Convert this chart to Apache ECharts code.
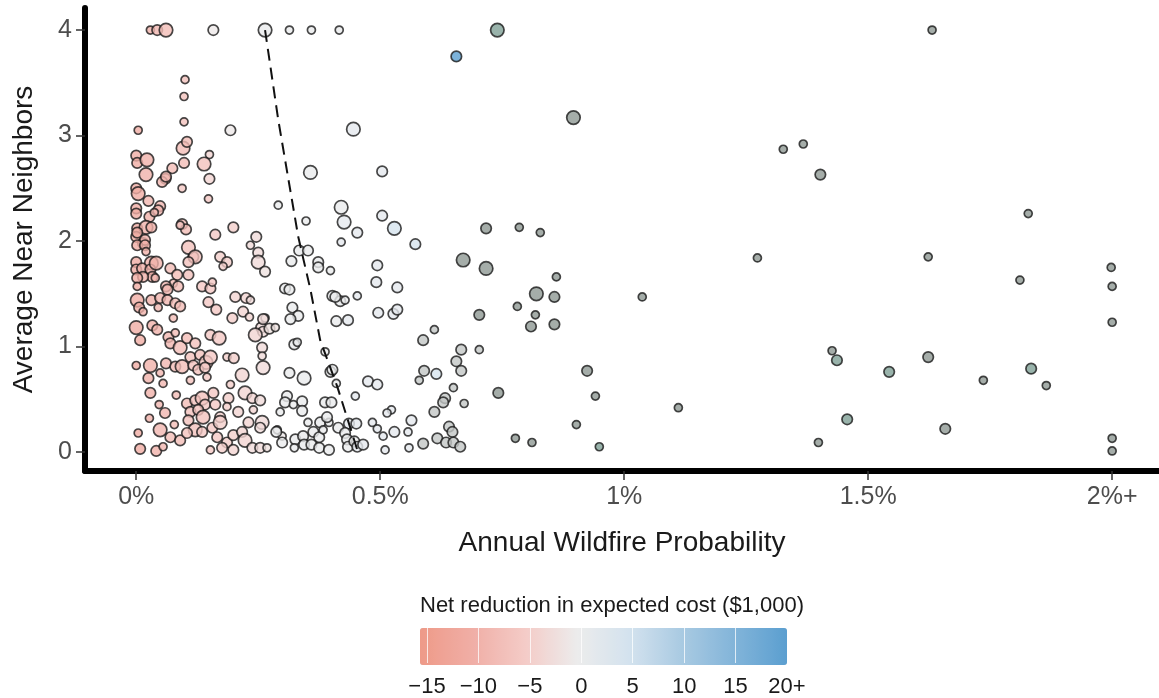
<!DOCTYPE html>
<html>
<head>
<meta charset="utf-8">
<title>Annual Wildfire Probability vs Average Near Neighbors</title>
<script src="https://cdn.jsdelivr.net/npm/echarts@6/dist/echarts.min.js"></script>
<style>
  html, body { margin: 0; padding: 0; background: #fff; }
  #chart { width: 1159px; height: 698px; }
</style>
</head>
<body>
<div id="chart"></div>
<script>
// x = annual wildfire probability (%), y = average near neighbors,
// s = size class (1 small, 2 medium, 3 large), v = net reduction in expected cost ($1,000)
var costPoints = [
    // top row
    [0.029, 4, 1, -10], [0.043, 4, 2, -9], [0.061, 4, 3, -8], [0.158, 4, 2, -1], [0.264, 4, 3, 0],
    [0.314, 4, 1, 0], [0.359, 4, 1, 0], [0.416, 4, 1, 0], [0.656, 3.75, 2, 20],
    // upper
    [0.100, 3.53, 1, -7], [0.098, 3.37, 1, -7], [0.098, 3.13, 1, -7], [0.004, 3.05, 1, -11], [0.193, 3.05, 2, -1],
    [0.445, 3.06, 3, 1],
    [0.0, 2.81, 2, -11], [0.002, 2.74, 2, -11], [0.022, 2.77, 3, -10], [0.02, 2.63, 3, -10], [0.074, 2.69, 2, -8],
    [0.06, 2.59, 2, -9], [0.053, 2.56, 2, -9], [0.096, 2.88, 3, -8], [0.104, 2.94, 2, -8], [0.098, 2.74, 2, -8],
    [0.15, 2.82, 1, -4], [0.139, 2.73, 3, -7], [0.15, 2.59, 2, -4], [0.094, 2.50, 1, -6], [0.148, 2.40, 1, -6],
    [0.0, 2.50, 2, -11], [0.004, 2.45, 3, -11], [0.025, 2.38, 2, -9], [0.049, 2.33, 2, -9], [0.045, 2.29, 2, -9],
    [0.0, 2.31, 2, -11], [0.0, 2.26, 2, -11], [0.027, 2.23, 2, -10], [0.002, 2.12, 2, -11], [0.02, 2.13, 3, -10],
    [0.031, 2.13, 2, -10], [0.094, 2.16, 2, -8], [0.102, 2.11, 2, -8], [0.162, 2.06, 2, -6], [0.199, 2.13, 2, -5],
    [0.246, 2.04, 2, -3], [0.061, 2.61, 2, -9], [0.037, 2.27, 1, -9], [0.09, 2.15, 1, -7], [0.0, 2.04, 2, -11],
    [0.014, 1.98, 2, -10], [0.117, 1.85, 2, -7], [0.031, 1.79, 3, -10], [0.107, 1.68, 2, -7],
    // 1.4 - 2.1
    [0.002, 2.08, 2, -11], [0.018, 2.01, 2, -10], [0.002, 1.96, 2, -11], [0.018, 1.96, 2, -10], [0.02, 1.90, 1, -10],
    [0.107, 1.94, 3, -7], [0.121, 1.85, 3, -7], [0.107, 1.80, 2, -7], [0.234, 1.96, 1, -3], [0.25, 1.89, 2, -3],
    [0.25, 1.80, 3, -3], [0.264, 1.71, 2, -2], [0.172, 1.85, 2, -5], [0.186, 1.80, 2, -5], [0.178, 1.76, 1, -5],
    [0.0, 1.80, 2, -11], [0.0, 1.73, 2, -11], [0.012, 1.74, 2, -10], [0.029, 1.73, 2, -10], [0.041, 1.79, 3, -10],
    [0.033, 1.66, 2, -10], [0.014, 1.66, 2, -10], [0.002, 1.65, 2, -11], [0.07, 1.74, 2, -8], [0.084, 1.68, 2, -8],
    [0.076, 1.60, 1, -8], [0.039, 1.65, 1, -9], [0.002, 1.57, 1, -11], [0.061, 1.57, 2, -9], [0.086, 1.57, 2, -8],
    [0.064, 1.54, 2, -9], [0.135, 1.57, 2, -6], [0.152, 1.55, 2, -6], [0.156, 1.61, 1, -6], [0.203, 1.47, 2, -4],
    [0.225, 1.46, 2, -4], [0.234, 1.44, 1, -3],
    // 1.0 - 1.45
    [0.002, 1.44, 3, -11], [0.006, 1.37, 2, -11], [0.014, 1.33, 1, -10], [0.031, 1.44, 2, -10], [0.049, 1.46, 2, -9],
    [0.064, 1.44, 2, -9], [0.08, 1.41, 2, -8], [0.09, 1.38, 2, -8], [0.045, 1.37, 1, -9], [0.148, 1.42, 2, -6],
    [0.164, 1.35, 2, -6], [0.197, 1.27, 2, -5], [0.219, 1.33, 2, -4], [0.232, 1.28, 1, -4], [0.264, 1.27, 1, -2],
    [0.256, 1.18, 2, -3], [0.26, 1.14, 2, -3], [0.273, 1.17, 2, -2], [0.285, 1.18, 1, -2], [0.076, 1.27, 1, -8],
    [0.26, 1.26, 2, -3], [0.244, 1.11, 3, -4],
    [0.0, 1.18, 3, -11], [0.008, 1.06, 2, -11], [0.033, 1.20, 2, -10], [0.043, 1.16, 2, -10], [0.066, 1.09, 2, -9],
    [0.07, 1.03, 2, -9], [0.09, 0.99, 3, -8], [0.104, 1.08, 2, -8], [0.121, 1.03, 2, -7], [0.152, 1.11, 2, -6],
    [0.17, 1.08, 3, -6], [0.08, 1.13, 1, -8], [0.258, 0.99, 2, -3],
    // 0.6 - 0.95
    [0.0, 0.82, 1, -11], [0.029, 0.82, 3, -10], [0.025, 0.70, 2, -10], [0.049, 0.75, 1, -9], [0.061, 0.84, 2, -9],
    [0.08, 0.81, 2, -8], [0.094, 0.81, 3, -8], [0.111, 0.90, 2, -7], [0.117, 0.82, 2, -7], [0.131, 0.92, 2, -7],
    [0.143, 0.85, 3, -6], [0.152, 0.90, 3, -6], [0.127, 0.78, 2, -7], [0.141, 0.80, 2, -6], [0.145, 0.71, 1, -6],
    [0.111, 0.68, 1, -7], [0.055, 0.65, 1, -9], [0.186, 0.90, 1, -5], [0.2, 0.89, 2, -5], [0.217, 0.73, 3, -4],
    [0.193, 0.64, 1, -5], [0.26, 0.80, 3, -3], [0.258, 0.91, 1, -3],
    // 0.3 - 0.56
    [0.029, 0.56, 2, -10], [0.082, 0.54, 1, -8], [0.047, 0.45, 1, -9], [0.059, 0.37, 2, -9], [0.027, 0.32, 1, -10],
    [0.104, 0.46, 2, -8], [0.121, 0.49, 2, -7], [0.135, 0.51, 3, -7], [0.141, 0.45, 2, -6], [0.158, 0.56, 2, -6],
    [0.162, 0.45, 2, -6], [0.111, 0.38, 2, -7], [0.127, 0.40, 2, -7], [0.137, 0.33, 3, -7], [0.172, 0.33, 2, -5],
    [0.189, 0.51, 2, -5], [0.186, 0.43, 1, -5], [0.223, 0.56, 3, -4], [0.238, 0.51, 2, -4], [0.254, 0.49, 2, -3],
    [0.24, 0.40, 1, -4], [0.258, 0.28, 3, -3], [0.209, 0.38, 2, -4],
    // 0 - 0.3
    [0.004, 0.18, 1, -11], [0.008, 0.03, 2, -11], [0.041, 0.01, 2, -10], [0.055, 0.05, 1, -9], [0.049, 0.21, 3, -9],
    [0.07, 0.14, 2, -8], [0.09, 0.11, 2, -8], [0.078, 0.26, 1, -8], [0.107, 0.30, 2, -7], [0.121, 0.21, 3, -7],
    [0.104, 0.18, 2, -7], [0.135, 0.19, 2, -6], [0.156, 0.23, 2, -6], [0.172, 0.28, 3, -5], [0.166, 0.14, 2, -6],
    [0.186, 0.09, 2, -5], [0.152, 0.02, 1, -6], [0.176, 0.04, 2, -5], [0.199, 0.02, 2, -4], [0.199, 0.16, 2, -5],
    [0.217, 0.19, 2, -4], [0.223, 0.11, 3, -4], [0.238, 0.04, 2, -3], [0.254, 0.04, 2, -3], [0.268, 0.04, 1, -2],
    [0.23, 0.28, 2, -4], [0.254, 0.23, 2, -3], [0.289, 0.21, 1, -1], [0.299, 0.15, 1, -1],
    // light points right of the pink cloud
    [0.291, 2.34, 1, 0], [0.357, 2.65, 3, 0], [0.348, 2.19, 1, 0], [0.42, 2.32, 3, 0], [0.426, 2.18, 3, 1],
    [0.453, 2.08, 2, 1], [0.504, 2.66, 2, 1], [0.504, 2.24, 2, 1], [0.529, 2.12, 3, 4], [0.42, 1.99, 1, 1],
    [0.334, 1.91, 2, 0], [0.352, 1.91, 2, 0], [0.318, 1.81, 2, 0], [0.373, 1.80, 2, 0], [0.373, 1.75, 2, 0],
    [0.398, 1.72, 1, 0], [0.305, 1.55, 2, 0], [0.314, 1.54, 2, 0], [0.402, 1.48, 2, 0], [0.418, 1.43, 2, 0],
    [0.428, 1.44, 1, 0], [0.453, 1.48, 1, 1], [0.32, 1.37, 2, 0], [0.332, 1.29, 2, 0], [0.316, 1.26, 2, 0],
    [0.41, 1.24, 2, 0], [0.434, 1.25, 2, 1], [0.324, 1.02, 2, 0], [0.33, 1.04, 1, 0], [0.387, 0.95, 1, 0],
    [0.314, 0.75, 2, 0], [0.344, 0.70, 3, 0], [0.398, 0.76, 2, 0], [0.41, 0.65, 1, 0], [0.475, 0.67, 2, 1],
    [0.494, 0.64, 2, 1], [0.449, 0.53, 1, 1], [0.309, 0.53, 2, 0], [0.305, 0.47, 2, 0], [0.34, 0.48, 2, 0],
    [0.387, 0.47, 2, 0], [0.40, 0.47, 2, 0], [0.322, 0.45, 1, 0], [0.295, 0.38, 1, 0], [0.34, 0.39, 2, 0],
    [0.352, 0.28, 1, 0], [0.377, 0.28, 2, 0], [0.395, 0.28, 1, 0], [0.391, 0.33, 2, 0], [0.436, 0.27, 2, 1],
    [0.451, 0.27, 2, 1], [0.484, 0.28, 1, 1], [0.494, 0.22, 1, 1], [0.506, 0.15, 1, 1], [0.529, 0.19, 2, 1],
    [0.287, 0.19, 2, 0], [0.299, 0.09, 2, 0], [0.326, 0.12, 2, 0], [0.342, 0.15, 2, 0], [0.363, 0.19, 2, 0],
    [0.375, 0.14, 2, 0], [0.383, 0.21, 1, 0], [0.324, 0.04, 1, 0], [0.344, 0.07, 2, 0], [0.359, 0.07, 2, 0],
    [0.375, 0.04, 2, 0], [0.395, 0.02, 2, 0], [0.414, 0.23, 2, 0], [0.428, 0.18, 2, 0], [0.432, 0.12, 2, 0],
    [0.434, 0.05, 2, 0], [0.447, 0.10, 2, 0], [0.453, 0.05, 2, 1], [0.465, 0.07, 2, 1], [0.408, 1.47, 2, 0],
    [0.402, 0.78, 2, 0], [0.494, 1.77, 2, 1], [0.492, 1.61, 2, 1], [0.535, 1.56, 2, 1], [0.496, 1.32, 2, 1],
    [0.527, 1.31, 2, 1], [0.535, 1.35, 2, 1], [0.523, 0.40, 1, 1], [0.514, 0.37, 1, 1], [0.557, 0.19, 1, 1],
    [0.51, 0.02, 1, 1], [0.559, 0.04, 1, 1], [0.564, 0.30, 2, 1], [0.572, 1.97, 2, 4], [0.615, 0.74, 2, 4]
];

// grey points (no colour value), [x, y, size class]
var midGreyPoints = [
    [0.611, 1.16, 1], [0.588, 1.06, 2], [0.666, 0.97, 2], [0.703, 0.97, 1], [0.656, 0.86, 2], [0.666, 0.77, 2],
    [0.59, 0.77, 2], [0.58, 0.68, 1], [0.65, 0.61, 1], [0.633, 0.51, 2], [0.629, 0.47, 2], [0.672, 0.46, 1],
    [0.611, 0.38, 2], [0.588, 0.08, 2], [0.617, 0.13, 2], [0.641, 0.24, 2], [0.648, 0.19, 2], [0.635, 0.09, 2],
    [0.65, 0.09, 2], [0.664, 0.05, 2]
];
var darkGreyPoints = [
    [0.67, 1.82, 3], [0.717, 1.74, 3], [0.703, 1.30, 2], [0.742, 0.56, 2], [0.717, 2.12, 2], [0.785, 2.13, 1],
    [0.828, 2.08, 1], [0.896, 3.17, 3], [1.326, 2.87, 1], [1.367, 2.92, 1], [1.402, 2.63, 2], [1.273, 1.84, 1],
    [0.861, 1.66, 1], [0.82, 1.50, 3], [0.857, 1.47, 2], [1.037, 1.47, 1], [0.781, 1.38, 1], [0.818, 1.30, 1],
    [0.809, 1.19, 2], [0.857, 1.21, 2], [1.426, 0.96, 1], [0.924, 0.77, 2], [0.941, 0.53, 1], [1.111, 0.42, 1],
    [0.902, 0.26, 1], [0.777, 0.13, 1], [0.811, 0.09, 1], [1.398, 0.09, 1], [1.631, 4.0, 1], [1.828, 2.26, 1],
    [1.623, 1.85, 1], [1.811, 1.63, 1], [1.998, 1.75, 1], [2.0, 1.57, 1], [2.0, 1.23, 1], [1.623, 0.90, 2],
    [1.736, 0.68, 1], [1.865, 0.63, 1], [1.658, 0.22, 2], [2.0, 0.13, 1], [2.0, 0.01, 1]
];
var tealGreyPoints = [
    [0.74, 4.0, 3], [1.436, 0.87, 2], [1.457, 0.31, 2], [1.543, 0.76, 2], [1.834, 0.79, 2], [0.949, 0.05, 1]
];

// dashed boundary line
var boundaryLine = [
    [0.264, 4.0], [0.291, 3.15], [0.332, 2.04], [0.357, 1.54], [0.377, 1.06], [0.412, 0.62], [0.453, 0.02]
];

var xTicks = [0, 0.5, 1, 1.5, 2];
var yTicks = [0, 1, 2, 3, 4];
var costTicks = [-15, -10, -5, 0, 5, 10, 15, 20];

var sizeByClass = {1: 8, 2: 10.5, 3: 13.5};
var font = '"Liberation Sans", Arial, sans-serif';

function pointSize(d) {
    return sizeByClass[d[2]];
}

function greySeries(data, color) {
    return {
        type: 'scatter',
        xAxisIndex: 0,
        yAxisIndex: 0,
        data: data,
        symbolSize: pointSize,
        itemStyle: {color: color, borderColor: '#1a1a1a', borderWidth: 1.7},
        animation: false
    };
}

var myChart = echarts.init(document.getElementById('chart'));

var option = {
    backgroundColor: '#fff',
    title: {
        text: 'Net reduction in expected cost ($1,000)',
        left: 420,
        top: 595,
        padding: 0,
        textStyle: {fontFamily: font, fontSize: 22, fontWeight: 'normal', color: '#1a1a1a'}
    },
    grid: [
        {left: 85, top: 8, width: 1074, height: 463, containLabel: false},
        {left: 420, top: 628, width: 367, height: 37}
    ],
    visualMap: {
        type: 'continuous',
        seriesIndex: 0,
        dimension: 3,
        min: -15.68,
        max: 20,
        orient: 'horizontal',
        left: 420,
        top: 628,
        padding: 0,
        itemWidth: 37,
        itemHeight: 367,
        calculable: false,
        hoverLink: false,
        text: null,
        showLabel: false,
        inRange: {
            color: ['#ee9a88', '#f0aea6', '#f4cbc7', '#ececec', '#d3e2ee', '#a9cae2', '#82b4d9', '#5b9fd0']
        }
    },
    xAxis: [{
        gridIndex: 0,
        type: 'value',
        min: -0.105,
        max: 2.096,
        name: 'Annual Wildfire Probability',
        nameLocation: 'middle',
        nameGap: 58,
        nameTextStyle: {fontFamily: font, fontSize: 28, color: '#1a1a1a'},
        axisLine: {show: true, onZero: false, lineStyle: {color: '#000', width: 6}},
        axisTick: {show: true, customValues: xTicks, length: 9, lineStyle: {color: '#333', width: 1.5}},
        axisLabel: {
            customValues: xTicks,
            margin: 14,
            fontFamily: font,
            fontSize: 25,
            color: '#4d4d4d',
            formatter: function (v) {
                return v === 2 ? '2%+' : v + '%';
            }
        },
        splitLine: {show: false}
    }, {
        gridIndex: 1,
        type: 'value',
        min: -15.68,
        max: 20,
        z: 10,
        axisLine: {show: false},
        axisTick: {show: true, inside: true, customValues: costTicks, length: 37, lineStyle: {color: 'rgba(255,255,255,0.75)', width: 1}},
        axisLabel: {
            customValues: costTicks,
            margin: 13,
            fontFamily: font,
            fontSize: 22,
            color: '#1a1a1a',
            formatter: function (v) {
                if (v === 20) return '20+';
                return v < 0 ? '\u2212' + Math.abs(v) : String(v);
            }
        },
        splitLine: {show: false}
    }],
    yAxis: [{
        gridIndex: 0,
        type: 'value',
        min: -0.18,
        max: 4.209,
        name: 'Average Near Neighbors',
        nameLocation: 'middle',
        nameGap: 47,
        nameTextStyle: {fontFamily: font, fontSize: 28, color: '#1a1a1a'},
        axisLine: {show: true, onZero: false, lineStyle: {color: '#000', width: 6}},
        axisTick: {show: true, customValues: yTicks, length: 9, lineStyle: {color: '#333', width: 1.5}},
        axisLabel: {
            customValues: yTicks,
            margin: 13,
            fontFamily: font,
            fontSize: 25,
            color: '#4d4d4d'
        },
        splitLine: {show: false}
    }, {
        gridIndex: 1,
        type: 'value',
        show: false
    }],
    series: [{
        type: 'scatter',
        xAxisIndex: 0,
        yAxisIndex: 0,
        data: costPoints,
        symbolSize: pointSize,
        itemStyle: {borderColor: '#1a1a1a', borderWidth: 1.7},
        animation: false
    },
        greySeries(midGreyPoints, '#c3c7c5'),
        greySeries(darkGreyPoints, '#8f9893'),
        greySeries(tealGreyPoints, '#7fa096'),
        {
            type: 'line',
            xAxisIndex: 0,
            yAxisIndex: 0,
            data: boundaryLine,
            symbol: 'none',
            z: 5,
            lineStyle: {color: '#111', width: 2, type: [12, 7]},
            animation: false
        }
    ]
};

myChart.setOption(option);
</script>
</body>
</html>
